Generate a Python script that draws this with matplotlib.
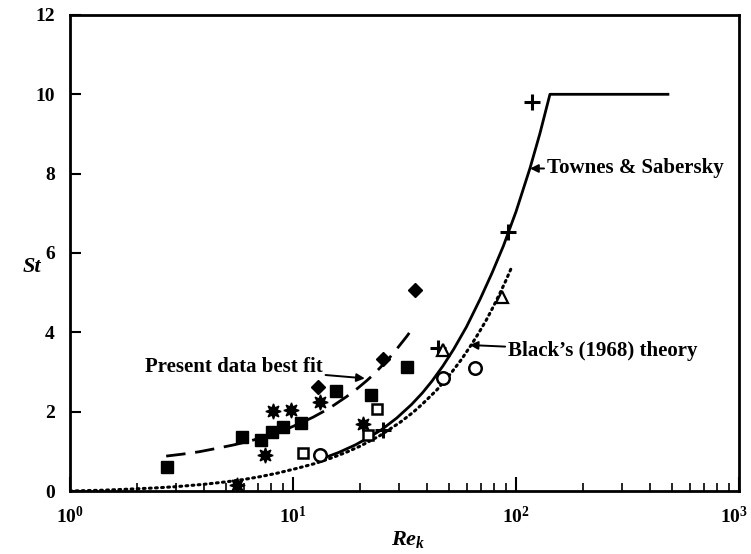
import matplotlib
matplotlib.use("Agg")
import matplotlib.pyplot as plt
from matplotlib.ticker import LogLocator, FixedLocator, NullFormatter
from matplotlib.transforms import ScaledTranslation

plt.rcParams['font.family'] = ['Liberation Serif', 'DejaVu Serif']
plt.rcParams['font.weight'] = 'bold'
plt.rcParams['mathtext.fontset'] = 'custom'
plt.rcParams['mathtext.rm'] = 'Liberation Serif:bold'
plt.rcParams['mathtext.it'] = 'Liberation Serif:bold:italic'
plt.rcParams['mathtext.bf'] = 'Liberation Serif:bold'

# --- curves ---
townes_re = [13.0, 16.0, 19.0, 22.2, 25.0, 29.2, 34.0, 38.0, 42.0, 47.0, 52.5,
             60.0, 69.1, 78.0, 87.7, 100.0, 115.6, 128.0, 142.0, 480.0]
townes_st = [0.78, 0.97, 1.16, 1.37, 1.55, 1.84, 2.18, 2.47, 2.77, 3.15, 3.57,
             4.14, 4.84, 5.49, 6.17, 7.04, 8.14, 9.01, 10.0, 10.0]

black_re = [1.0, 1.4, 1.8, 2.4, 3.0, 4.0, 5.0, 6.0, 7.1, 8.5, 10.4, 12.5, 15.0,
            17.4, 20.0, 24.6, 30.2, 34.5, 38.0, 44.2, 50.8, 57.0, 63.1,
            68.0, 73.6, 79.0, 84.8, 90.0, 95.6]
black_st = [0.0, 0.02, 0.045, 0.077, 0.11, 0.17, 0.23, 0.29, 0.36, 0.45, 0.57, 0.69, 0.84,
            0.98, 1.13, 1.40, 1.73, 1.98, 2.19, 2.55, 2.95, 3.32, 3.69,
            3.98, 4.31, 4.64, 4.99, 5.30, 5.64]

fit_re = [2.7, 3.2, 3.8, 4.5, 5.4, 6.2, 7.0, 8.0, 9.0, 10.5, 12.3, 14.5, 17.4,
          19.5, 21.4, 23.0, 24.6, 27.0, 29.2, 32.3, 35.2]
fit_st = [0.88, 0.93, 0.99, 1.07, 1.16, 1.24, 1.32, 1.42, 1.52, 1.68, 1.86, 2.08, 2.38,
          2.59, 2.78, 2.94, 3.11, 3.35, 3.58, 3.89, 4.18]

# --- measurements ---
fsq_re = [2.71, 5.89, 7.16, 8.03, 9.05, 10.9, 15.6, 22.3, 32.6]
fsq_st = [0.61, 1.37, 1.28, 1.49, 1.62, 1.72, 2.53, 2.42, 3.13]

star_re = [5.59, 7.49, 8.11, 9.77, 13.2, 20.7]
star_st = [0.15, 0.91, 2.02, 2.04, 2.25, 1.69]

dia_re = [13.0, 25.4, 35.2]
dia_st = [2.63, 3.34, 5.06]

osq_re = [11.05, 21.8, 23.7]
osq_st = [0.97, 1.40, 2.06]

plus_re = [25.4, 44.8, 92.4, 117.6]
plus_st = [1.54, 3.60, 6.53, 9.81]

tri_re = [47.2, 86.6]
tri_st = [3.55, 4.88]

circ_re = [13.2, 46.9, 65.5]
circ_st = [0.91, 2.84, 3.09]

x_ticks = [1, 10, 100, 1000]
x_ticklabels = [r'$10^{0}$', r'$10^{1}$', r'$10^{2}$', r'$10^{3}$']
y_ticks = [0, 2, 4, 6, 8, 10, 12]

fig = plt.figure(figsize=(7.51, 5.54), dpi=100)
ax = fig.add_axes([0.0932, 0.1137, 0.8908, 0.8593])

ax.plot(townes_re, townes_st, color='black', lw=2.0, zorder=3)
ax.plot(black_re, black_st, color='black', lw=2.2, linestyle=(0, (0.6, 1.4)),
        dash_capstyle='round', zorder=3)
ax.plot(fit_re, fit_st, color='black', lw=2.0, linestyle=(0, (7, 3.5)), zorder=3)

ax.plot(fsq_re, fsq_st, 's', color='black', ms=8.5, zorder=4)
ax.plot(star_re, star_st, marker=(8, 1, 0), ls='none', color='black', ms=11, zorder=4)
ax.plot(dia_re, dia_st, 'D', color='black', ms=7.5, zorder=4)
ax.plot(osq_re, osq_st, 's', mfc='white', mec='black', mew=1.8, ms=7.5, zorder=4)
ax.plot(plus_re, plus_st, '+', color='black', mew=2.2, ms=12, zorder=4)
ax.plot(tri_re, tri_st, '^', mfc='white', mec='black', mew=1.6, ms=8, zorder=4)
ax.plot(circ_re, circ_st, 'o', mfc='white', mec='black', mew=1.8, ms=9, zorder=4)

ax.set_xscale('log')
ax.set_xlim(1, 1000)
ax.set_ylim(0, 12)

ax.xaxis.set_major_locator(FixedLocator(x_ticks))
ax.set_xticklabels(x_ticklabels)
ax.xaxis.set_minor_locator(LogLocator(base=10, subs=range(2, 10)))
ax.xaxis.set_minor_formatter(NullFormatter())
ax.set_yticks(y_ticks)
ax.set_yticklabels([str(v) for v in y_ticks])

ax.tick_params(axis='x', which='major', direction='in', length=10, width=1.5,
               labelsize=14, pad=11, top=False)
ax.tick_params(axis='x', which='minor', direction='in', length=6, width=1.2, top=False)
ax.tick_params(axis='y', which='major', direction='in', length=8, width=1.5,
               labelsize=14, pad=11, right=False)
for sp in ax.spines.values():
    sp.set_linewidth(2.0)

# keep the rightmost decade label inside the canvas
last = ax.get_xticklabels()[-1]
last.set_transform(last.get_transform() + ScaledTranslation(-5 / 100, 0, fig.dpi_scale_trans))

fig.text(408 / 751, 1 - 540 / 554, r'$Re_k$', fontsize=16, ha='center', va='center')
fig.text(32 / 751, 1 - 267 / 554, 'St', fontsize=16, style='italic',
         ha='center', va='center')

arrow = dict(arrowstyle='-|>', color='black', lw=1.4, mutation_scale=12,
             shrinkA=0, shrinkB=0)
ax.annotate('Present data best fit', xy=(21.0, 2.84), xytext=(13.6, 3.12),
            fontsize=15, ha='right', va='center', arrowprops=arrow)
ax.annotate("Black\u2019s (1968) theory", xy=(62.0, 3.68), xytext=(92.0, 3.53),
            fontsize=15, ha='left', va='center', arrowprops=arrow)
ax.annotate('Townes & Sabersky', xy=(115.6, 8.13), xytext=(137.5, 8.13),
            fontsize=15, ha='left', va='center', arrowprops=arrow)

fig.savefig('out.png', dpi=100)
